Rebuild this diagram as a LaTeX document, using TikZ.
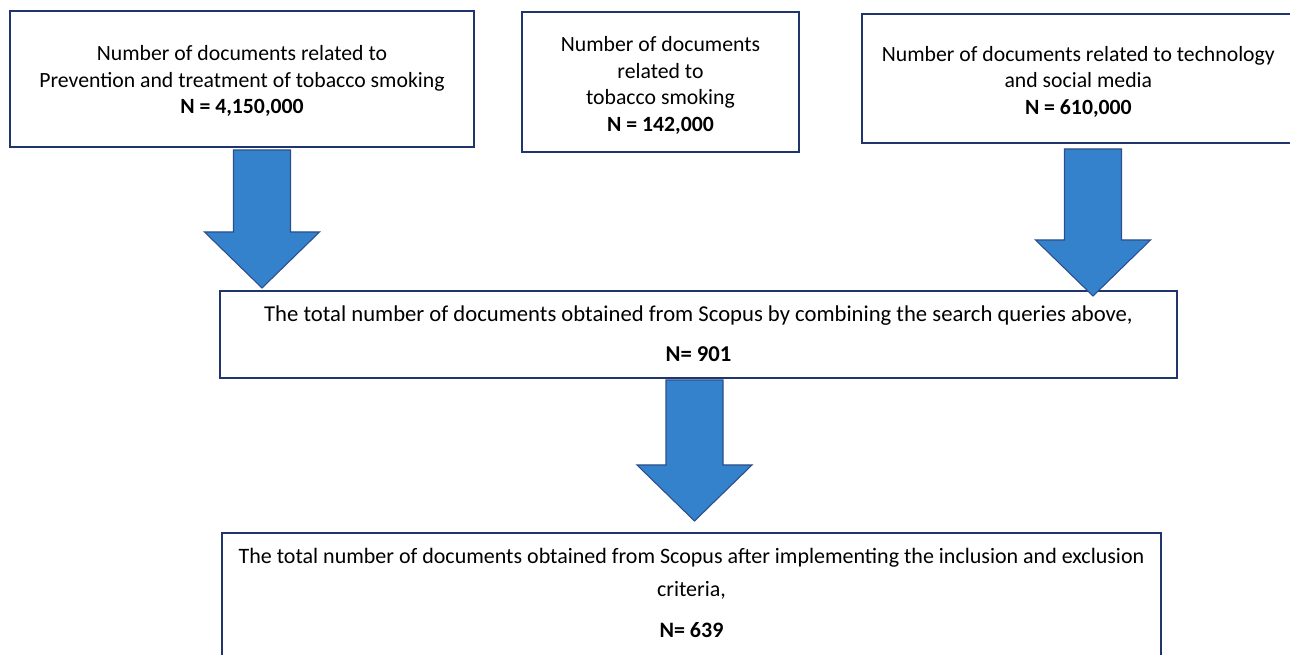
\documentclass[tikz,border=0pt]{standalone}
\usepackage{fontspec}
\setmainfont{Carlito}
\usetikzlibrary{fit}
\definecolor{boxline}{RGB}{32,52,110}
\definecolor{arrowfill}{RGB}{53,130,204}
\definecolor{arrowline}{RGB}{44,78,140}
\tikzset{
docbox/.style={draw=boxline, line width=1.5pt, inner sep=0pt},
doctext/.style={align=center, inner sep=0pt, font=\fontsize{16.3}{19.9}\selectfont},
downarrow/.pic={
  \draw[draw=arrowline, fill=arrowfill, line width=0.8pt, line join=miter]
    (-28.5,0) -- (28.5,0) -- (28.5,#1-56) -- (57.5,#1-56) -- (0,#1)
    -- (-57.5,#1-56) -- (-28.5,#1-56) -- cycle;
  }
}
\begin{document}
\begin{tikzpicture}[x=0.75pt,y=-0.75pt]
\useasboundingbox (0,0) rectangle (1290,655);
% search queries
\node[docbox, fit={(10,11) (474,147)}] (boxA) {};
\node[doctext] (txtA) at ([yshift=-1.75pt]boxA.center) {Number of documents related to\\
  Prevention and treatment of tobacco smoking\\ \textbf{N = 4,150,000}};
\node[docbox, fit={(522,12) (799,152)}] (boxB) {};
\node[doctext] (txtB) at ([yshift=-2.6pt]boxB.center) {Number of documents\\ related to\\
  tobacco smoking\\ \textbf{N = 142,000}};
\node[docbox, fit={(862,14) (1300,143)}] (boxC) {};
\node[doctext] (txtC) at ([xshift=-2pt,yshift=-2.25pt]boxC.center) {Number of documents related to technology\\
  and social media\\ \textbf{N = 610,000}};
% combined and filtered
\node[docbox, fit={(220,291) (1177,378)}] (boxD) {};
\node[doctext, font=\fontsize{17}{20.7}\selectfont] (txtD) at ([yshift=0.75pt]boxD.center)
  {The total number of documents obtained from Scopus by combining the search queries above,\\[9.3pt]
  \textbf{N= 901}};
\node[docbox, fit={(222,533) (1161,665)}] (boxE) {};
\node[doctext, font=\fontsize{16.5}{20.1}\selectfont] (txtE) at ([yshift=4.75pt]boxE.center)
  {The total number of documents obtained from Scopus after implementing the inclusion and exclusion\\[4.8pt]
  criteria,\\[10.4pt] \textbf{N= 639}};
% block arrows
\pic at ([xshift=15pt,yshift=-1.5pt]boxA.south) {downarrow=138};
\pic at ([xshift=9pt,yshift=-3.75pt]boxC.south) {downarrow=147};
\pic at ([xshift=-3pt,yshift=-0.75pt]boxD.south) {downarrow=141};
\end{tikzpicture}
\end{document}
